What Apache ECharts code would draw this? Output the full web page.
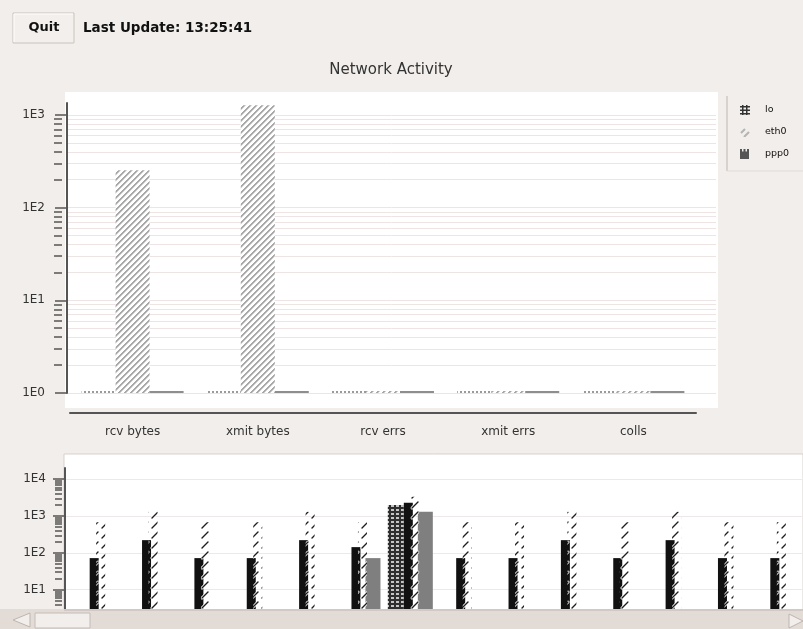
<!DOCTYPE html>
<html><head><meta charset="utf-8">
<script src="https://cdn.jsdelivr.net/npm/echarts@6/dist/echarts.min.js"></script>
<style>html,body{margin:0;padding:0;background:#f2eeeb;}#c{width:803px;height:629px;}</style>
</head><body><div id="c"></div>
<script>
// ---- top chart data ----
const categories = ['rcv bytes', 'xmit bytes', 'rcv errs', 'xmit errs', 'colls'];
const loValues   = [1, 1, 1, 1, 1];
const eth0Values = [253, 1270, 1, 1, 1];
const ppp0Values = [1, 1, 1, 1, 1];
const topMajorTicks = [1, 10, 100, 1000];
const topMinorTicks = [2,3,4,5,6,7,8,9, 20,30,40,50,60,70,80,90, 200,300,400,500,600,700,800,900];
const topGridLines  = [1,2,3,4,5,6,7,8,9, 10,20,30,40,50,60,70,80,90, 100,200,300,400,500,600,700,800,900, 1000];

// ---- history strip data ----
const historySlots = ['1','2','3','4','5','6','7','8','9','10','11','12','13','14'];
const histLo       = [null,null,null,null,null,null,1970,null,null,null,null,null,null,null];
const histEth0Rcv  = [72,221,72,72,221,143,2275,72,72,221,72,221,72,72];
const histEth0Xmit = [680,1295,680,680,1295,680,3310,680,680,1295,680,1295,680,680];
const histPpp0     = [null,null,null,null,null,72,1295,null,null,null,null,null,null,null];
const histMajorTicks = [10, 100, 1000, 10000];
const histMinorTicks = [4,5,6,7,8,9, 20,30,40,50,60,70,80,90, 200,300,400,500,600,700,800,900, 2000,3000,4000,5000,6000,7000,8000,9000];
const histGridLines  = [10, 100, 1000, 10000];

const legendNames = ['lo', 'eth0', 'ppp0'];

function mk(w, h, fn) { const c = document.createElement('canvas'); c.width = w; c.height = h; fn(c.getContext('2d')); return c; }
const pEthTop = mk(6, 6, g => {
  g.fillStyle = '#fff'; g.fillRect(0, 0, 6, 6);
  for (let x = 0; x < 6; x++) for (let y = 0; y < 6; y++) {
    const d = (x + y) % 6;
    if (d < 2) { g.fillStyle = '#a8a8a8'; g.fillRect(x, y, 1, 1); }
    else if (d === 2) { g.fillStyle = '#d6d6d6'; g.fillRect(x, y, 1, 1); }
  }
});
const pLoTop = mk(4, 4, g => { g.fillStyle = '#fff'; g.fillRect(0, 0, 4, 4); g.fillStyle = '#9a9a9a'; g.fillRect(0, 0, 2, 4); });
const pHatch = mk(10, 10, g => {
  g.lineCap = 'round';
  g.strokeStyle = '#ffffff'; g.lineWidth = 3; g.beginPath(); g.moveTo(2, 8); g.lineTo(8, 2); g.stroke();
  g.strokeStyle = '#1e1e1e'; g.lineWidth = 1.4; g.beginPath(); g.moveTo(2, 8); g.lineTo(8, 2); g.stroke();
});
const pLoBottom = mk(5, 4, g => { g.fillStyle = '#2e2e2e'; g.fillRect(0, 0, 5, 4); g.fillStyle = '#c4c4c4'; g.fillRect(1, 1, 3, 2); });
const iconLo = mk(10, 10, g => { g.fillStyle = '#333'; g.fillRect(2, 0, 1.5, 10); g.fillRect(6, 0, 1.5, 10); g.fillRect(0, 1, 10, 1.5); g.fillRect(0, 4.5, 10, 1.5); g.fillRect(0, 8, 10, 1.5); });
const iconEth = mk(10, 10, g => { g.strokeStyle = '#b4b4b4'; g.lineWidth = 2; g.beginPath(); g.moveTo(1, 6); g.lineTo(5, 2); g.moveTo(4, 10); g.lineTo(9, 5); g.stroke(); });
const iconPpp = mk(10, 10, g => { g.fillStyle = '#555'; g.fillRect(0, 2.5, 9, 7.5); g.fillRect(0, 0, 2, 3); g.fillRect(3.5, 0, 2, 3); g.fillRect(7, 0, 2, 3); });

const FONT = '"DejaVu Sans", sans-serif';
const axisColor = '#555';
const fmtExp = v => '1E' + Math.round(Math.log10(v));

function markGrid(values, xi, yi, color) {
  return { type: 'line', xAxisIndex: xi, yAxisIndex: yi, data: [], silent: true, z: 0,
    markLine: { silent: true, z: 0, symbol: ['none', 'none'], label: { show: false }, animation: false,
      lineStyle: { color: color, width: 1, type: 'solid' },
      data: values.map(v => ({ yAxis: v })) } };
}

const chart = echarts.init(document.getElementById('c'), null, { renderer: 'canvas' });
const option = {
  animation: false,
  backgroundColor: '#f2eeeb',
  grid: [
    { left: 70, width: 626, top: 103, height: 290 },   // 0 top bars
    { left: 67, width: 649, top: 103, height: 290 },   // 1 top axis / grid lines
    { left: 70, width: 743, top: 468, height: 141 },   // 2 history bars
    { left: 65, width: 738, top: 468, height: 141 }    // 3 history axis / grid lines
  ],
  xAxis: [
    { gridIndex: 0, type: 'category', data: categories, position: 'bottom', offset: 20,
      axisLine: { lineStyle: { color: axisColor, width: 2 } },
      axisTick: { alignWithLabel: true, length: 9, lineStyle: { color: axisColor, width: 1.5 } },
      axisLabel: { margin: 13, color: '#333', fontFamily: FONT, fontSize: 12 }, splitLine: { show: false } },
    { gridIndex: 0, type: 'category', data: categories, position: 'bottom', offset: 20,
      axisLine: { show: false },
      axisTick: { length: 5, interval: (i) => i !== 0, lineStyle: { color: axisColor, width: 1.5 } },
      axisLabel: { show: false }, splitLine: { show: false } },
    { gridIndex: 1, type: 'value', min: 0, max: 1, show: false },
    { gridIndex: 2, type: 'category', data: historySlots, show: false },
    { gridIndex: 2, type: 'category', data: historySlots, show: false },
    { gridIndex: 3, type: 'value', min: 0, max: 1, show: false }
  ],
  yAxis: [
    { gridIndex: 0, type: 'log', logBase: 10, min: 1, max: 1346, show: false },
    { gridIndex: 1, type: 'log', logBase: 10, min: 1, max: 1346, position: 'left', offset: 5,
      axisLine: { show: true, lineStyle: { color: axisColor, width: 2 } },
      axisTick: { show: true, customValues: topMajorTicks, length: 12, lineStyle: { color: axisColor, width: 1.5 } },
      axisLabel: { customValues: topMajorTicks, formatter: fmtExp, margin: 17, color: '#333', fontFamily: FONT, fontSize: 12 },
      splitLine: { show: false } },
    { gridIndex: 1, type: 'log', logBase: 10, min: 1, max: 1346, position: 'left', offset: 5,
      axisLine: { show: false },
      axisTick: { show: true, customValues: topMinorTicks, length: 8, lineStyle: { color: axisColor, width: 1.5 } },
      axisLabel: { show: false }, splitLine: { show: false } },
    { gridIndex: 2, type: 'log', logBase: 10, min: 3, max: 20000, show: false },
    { gridIndex: 3, type: 'log', logBase: 10, min: 3, max: 20000, position: 'left', offset: 3,
      axisLine: { show: true, lineStyle: { color: axisColor, width: 2 } },
      axisTick: { show: true, customValues: histMajorTicks, length: 12, lineStyle: { color: axisColor, width: 1.5 } },
      axisLabel: { customValues: histMajorTicks, formatter: fmtExp, margin: 16, color: '#333', fontFamily: FONT, fontSize: 12 },
      splitLine: { show: false } },
    { gridIndex: 3, type: 'log', logBase: 10, min: 3, max: 20000, position: 'left', offset: 3,
      axisLine: { show: false },
      axisTick: { show: true, customValues: histMinorTicks, length: 7, lineStyle: { color: axisColor, width: 1.5 } },
      axisLabel: { show: false }, splitLine: { show: false } }
  ],
  series: [
    markGrid(topGridLines, 2, 1, '#efe4e4'),
    markGrid(histGridLines, 5, 4, '#eee8e8'),
    { name: 'lo', type: 'bar', z: 3, xAxisIndex: 0, yAxisIndex: 0, data: loValues, barWidth: 34, barGap: 0, barMinHeight: 2,
      itemStyle: { color: { image: pLoTop, repeat: 'repeat' } } },
    { name: 'eth0', type: 'bar', z: 3, xAxisIndex: 0, yAxisIndex: 0, data: eth0Values, barWidth: 34, barGap: 0, barMinHeight: 2,
      itemStyle: { color: { image: pEthTop, repeat: 'repeat' } } },
    { name: 'ppp0', type: 'bar', z: 3, xAxisIndex: 0, yAxisIndex: 0, data: ppp0Values, barWidth: 34, barGap: 0, barMinHeight: 2,
      itemStyle: { color: '#8e8e8e' } },

    { name: 'lo history', type: 'bar', z: 3, xAxisIndex: 3, yAxisIndex: 3, data: histLo, barWidth: 16, barGap: 0, clip: true,
      itemStyle: { color: { image: pLoBottom, repeat: 'repeat' } } },
    { name: 'eth0 rcv history', type: 'bar', z: 3, xAxisIndex: 3, yAxisIndex: 3, data: histEth0Rcv, barWidth: 9, barGap: 0, clip: true,
      itemStyle: { color: '#111' } },
    { name: 'spacer', type: 'bar', xAxisIndex: 3, yAxisIndex: 3, data: historySlots.map(() => null), barWidth: 5, barGap: 0 },
    { name: 'ppp0 history', type: 'bar', z: 3, xAxisIndex: 3, yAxisIndex: 3, data: histPpp0, barWidth: 15, barGap: 0, clip: true,
      itemStyle: { color: '#7f7f7f' } },
    { name: 'spacer2', type: 'bar', xAxisIndex: 4, yAxisIndex: 3, data: historySlots.map(() => null), barWidth: 9, barGap: 0 },
    { name: 'eth0 xmit history', type: 'bar', z: 4, xAxisIndex: 4, yAxisIndex: 3, data: histEth0Xmit, barWidth: 9, barGap: 0, clip: true,
      itemStyle: { color: { image: pHatch, repeat: 'repeat' } } }
  ],
  graphic: [
    { type: 'rect', z: -10, shape: { x: 65, y: 92, width: 653, height: 316 }, style: { fill: '#ffffff' } },
    { type: 'rect', z: -10, shape: { x: 64, y: 454, width: 739, height: 156 }, style: { fill: '#ffffff', stroke: '#d9d1cc', lineWidth: 1 } },
    { type: 'rect', z: 5, shape: { x: 13, y: 13, width: 61, height: 30 }, style: { fill: '#f3efec', stroke: '#cbc3be', lineWidth: 1 } },
    { type: 'line', z: 6, shape: { x1: 14, y1: 14, x2: 73, y2: 14 }, style: { stroke: '#ffffff', lineWidth: 1 } },
    { type: 'line', z: 6, shape: { x1: 14, y1: 14, x2: 14, y2: 42 }, style: { stroke: '#ffffff', lineWidth: 1 } },
    { type: 'text', z: 7, x: 44, y: 28, style: { text: 'Quit', font: 'bold 13px ' + FONT, fill: '#111', align: 'center', verticalAlign: 'middle', textAlign: 'center', textVerticalAlign: 'middle' } },
    { type: 'text', z: 7, x: 83, y: 28, style: { text: 'Last Update: 13:25:41', font: 'bold 13.5px ' + FONT, fill: '#111', align: 'left', verticalAlign: 'middle', textAlign: 'left', textVerticalAlign: 'middle' } },
    { type: 'text', z: 7, x: 391, y: 70, style: { text: 'Network Activity', font: '15px ' + FONT, fill: '#333', align: 'center', verticalAlign: 'middle', textAlign: 'center', textVerticalAlign: 'middle' } },
    { type: 'line', z: 5, shape: { x1: 727, y1: 96, x2: 727, y2: 171 }, style: { stroke: '#cfc7c2', lineWidth: 1.5 } },
    { type: 'line', z: 5, shape: { x1: 727, y1: 171, x2: 803, y2: 171 }, style: { stroke: '#e2dbd7', lineWidth: 1 } },
    { type: 'image', z: 6, x: 740, y: 105, style: { image: iconLo, width: 10, height: 10 } },
    { type: 'image', z: 6, x: 740, y: 127, style: { image: iconEth, width: 10, height: 10 } },
    { type: 'image', z: 6, x: 740, y: 149, style: { image: iconPpp, width: 10, height: 10 } },
    { type: 'text', z: 7, x: 765, y: 110, style: { text: legendNames[0], font: '9.5px ' + FONT, fill: '#111', align: 'left', verticalAlign: 'middle', textAlign: 'left', textVerticalAlign: 'middle' } },
    { type: 'text', z: 7, x: 765, y: 132, style: { text: legendNames[1], font: '9.5px ' + FONT, fill: '#111', align: 'left', verticalAlign: 'middle', textAlign: 'left', textVerticalAlign: 'middle' } },
    { type: 'text', z: 7, x: 765, y: 154, style: { text: legendNames[2], font: '9.5px ' + FONT, fill: '#111', align: 'left', verticalAlign: 'middle', textAlign: 'left', textVerticalAlign: 'middle' } },
    { type: 'rect', z: 50, shape: { x: 0, y: 609, width: 803, height: 20 }, style: { fill: '#e3dbd6' } },
    { type: 'line', z: 51, shape: { x1: 64, y1: 610, x2: 803, y2: 610 }, style: { stroke: '#d2c9c4', lineWidth: 2 } },
    { type: 'polygon', z: 51, shape: { points: [[13, 620], [30, 613], [30, 627]] }, style: { fill: '#f2eeeb', stroke: '#bdb5b0', lineWidth: 1 } },
    { type: 'rect', z: 51, shape: { x: 35, y: 613, width: 55, height: 15 }, style: { fill: '#f2eeeb', stroke: '#c4bcb7', lineWidth: 1 } },
    { type: 'polygon', z: 51, shape: { points: [[803, 621], [789, 614], [789, 628]] }, style: { fill: '#f2eeeb', stroke: '#bdb5b0', lineWidth: 1 } }
  ]
};
chart.setOption(option);
</script>
</body></html>
